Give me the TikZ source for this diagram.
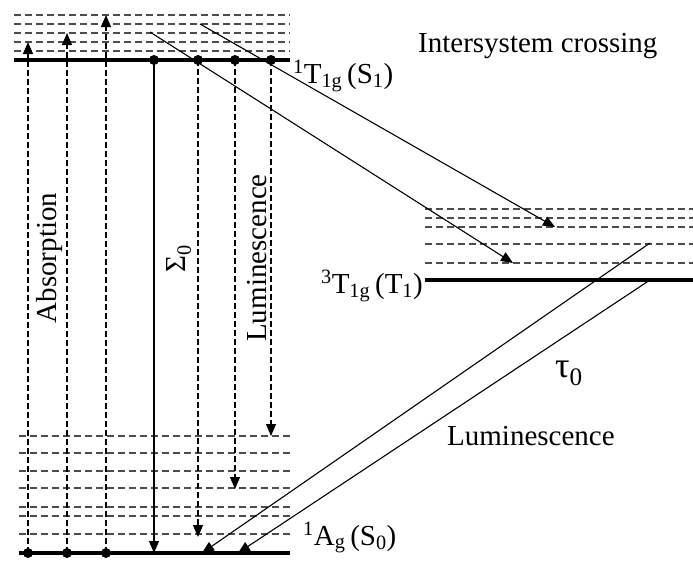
\documentclass[tikz,border=0pt]{standalone}
\usepackage{fontspec}
\setmainfont{Liberation Serif}
\usepackage{tikz}
\usetikzlibrary{arrows.meta,positioning}

\begin{document}
\begin{tikzpicture}[
  x=1pt,y=-1pt,
  >={Triangle[length=12pt,width=10pt]},
  level/.style={line width=3.5pt},
  sublevel/.style={line width=1.6pt,black!70,dash pattern=on 7pt off 4pt},
  trans/.style={line width=1.1pt,dash pattern=on 6pt off 3pt},
  every node/.style={font=\fontsize{29}{32}\selectfont,inner sep=0pt}
]
  \useasboundingbox (0,0) rectangle (693,560);

  % vibronic levels
  \foreach \y in {15,24,33,42,51}
    \draw[sublevel] (14,\y) -- (290,\y);
  \draw[level] (14,60) -- (290,60);
  \foreach \y in {209,218,227,244,263}
    \draw[sublevel] (425,\y) -- (693,\y);
  \draw[level] (425,280) -- (693,280);
  \foreach \y in {436,453,471,488,507,516,534}
    \draw[sublevel] (19,\y) -- (292,\y);
  \draw[level] (19,553) -- (290,553);

  % level labels
  \node[anchor=base west] (lS1) at (293,83) {\textsuperscript{1}T\textsubscript{1g}\,(S\textsubscript{1})};
  \node[anchor=base east] (lT1) at (423,293) {\textsuperscript{3}T\textsubscript{1g}\,(T\textsubscript{1})};
  \node[anchor=base west] (lS0) at (303,545) {\textsuperscript{1}A\textsubscript{g}\,(S\textsubscript{0})};

  % absorption
  \foreach \i/\x/\y in {1/28/42,2/67/33,3/106/15}{
    \coordinate (g\i) at (\x,553);
    \coordinate (e\i) at (\x,\y);
    \draw[trans,->] (g\i) -- (e\i);
    \fill (g\i) circle (5pt);
  }
  \node[rotate=90] (abs) at (50,258) {Absorption};

  % emission from S1
  \foreach \i/\x/\y in {1/154/553,2/198/537,3/235/489,4/271/436}{
    \coordinate (s\i) at (\x,60);
    \coordinate (f\i) at (\x,\y);
    \fill (s\i) circle (5pt);
  }
  \draw[line width=1.1pt,->] (s1) -- (f1);
  \foreach \i in {2,3,4}
    \draw[trans,->] (s\i) -- (f\i);
  \node[rotate=90] (sig) at (179,259) {Σ\textsubscript{0}};
  \node[rotate=90] (lum1) at (257,258) {Luminescence};

  % intersystem crossing
  \coordinate (i1) at (150,32);
  \coordinate (i2) at (200,24);
  \coordinate (t1) at (513,263);
  \coordinate (t2) at (555,227);
  \draw[line width=1.1pt,->] (i1) -- (t1);
  \draw[line width=1.1pt,->] (i2) -- (t2);
  \node[anchor=base west] (isc) at (418,52) {Intersystem crossing};

  % emission from T1
  \coordinate (u1) at (650,243);
  \coordinate (u2) at (650,280);
  \coordinate (b1) at (202,553);
  \coordinate (b2) at (238,553);
  \draw[line width=1.1pt,->] (u1) -- (b1);
  \draw[line width=1.1pt,->] (u2) -- (b2);
  \node[anchor=base west,font=\fontsize{36}{40}\selectfont] (tau) at (555,377) {τ\textsubscript{0}};
  \node[anchor=base west] (lum2) at (447,445) {Luminescence};
\end{tikzpicture}
\end{document}
